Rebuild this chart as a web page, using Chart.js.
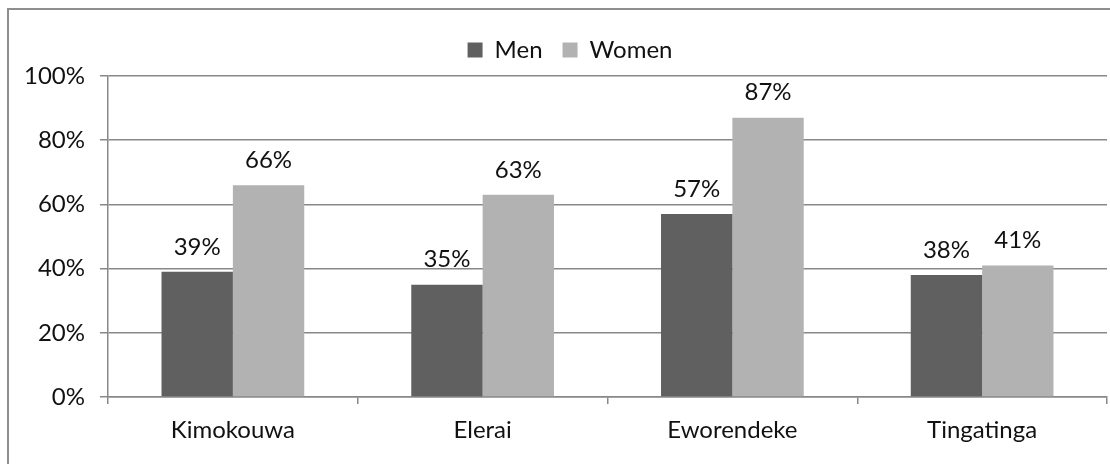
<!DOCTYPE html>
<html>
<head>
<meta charset="utf-8">
<script src="https://cdn.jsdelivr.net/npm/chart.js@4"></script>
<style>
  html, body { margin: 0; padding: 0; background: #fff; overflow: hidden; }
  #frame { position: absolute; left: 7px; top: 8px; width: 1200px; height: 600px;
           border: 2px solid #8e8e8e; box-sizing: border-box; }
  #wrap { position: absolute; left: 0; top: 0; width: 1110px; height: 464px; }
</style>
</head>
<body>
<div id="frame"></div>
<div id="wrap"><canvas id="c" width="1110" height="464"></canvas></div>
<script>
// Share of respondents by village, split by sex
const villages = ['Kimokouwa', 'Elerai', 'Eworendeke', 'Tingatinga'];
const men = [39, 35, 57, 38];
const women = [66, 63, 87, 41];
const yTicks = [0, 20, 40, 60, 80, 100];

const FONT = 'Lato, "Open Sans", sans-serif';
const SIZE = 24;

// Percentage labels above each bar
const barValueLabels = {
  id: 'barValueLabels',
  afterDatasetsDraw(chart) {
    const ctx = chart.ctx;
    ctx.save();
    ctx.font = SIZE + 'px ' + FONT;
    ctx.fillStyle = '#111';
    ctx.textAlign = 'center';
    ctx.textBaseline = 'middle';
    chart.data.datasets.forEach((ds, i) => {
      chart.getDatasetMeta(i).data.forEach((bar, j) => {
        ctx.fillText(ds.data[j] + '%', bar.x, bar.y - 25);
      });
    });
    ctx.restore();
  }
};

// Compact legend band, centred a little right of the canvas middle
const legendBand = {
  id: 'legendBand',
  beforeLayout(chart) {
    const lg = chart.legend;
    if (lg && !lg._bandFit) {
      const fit = lg.fit.bind(lg);
      lg.fit = function () { fit(); this.height = 58; };
      lg._bandFit = true;
    }
  },
  afterLayout(chart) {
    const lg = chart.legend;
    if (lg) { lg.left = 33; lg.right = 1107; }
  }
};

new Chart(document.getElementById('c'), {
  type: 'bar',
  data: {
    labels: villages,
    datasets: [
      { label: 'Men', data: men, backgroundColor: '#606060' },
      { label: 'Women', data: women, backgroundColor: '#b2b2b2' }
    ]
  },
  options: {
    responsive: false,
    animation: false,
    devicePixelRatio: 1,
    layout: { padding: { left: 0, right: 3, top: 18, bottom: 0 } },
    datasets: { bar: { categoryPercentage: 2 / 3.5, barPercentage: 1.0, borderWidth: 0 } },
    plugins: {
      legend: {
        position: 'top',
        labels: {
          boxWidth: 15, boxHeight: 15, padding: 20,
          color: '#111', font: { family: FONT, size: SIZE }
        }
      },
      tooltip: { enabled: false }
    },
    scales: {
      x: {
        grid: { display: true, drawOnChartArea: false, offset: true, tickLength: 7, color: '#888', lineWidth: 1.5 },
        border: { color: '#888', width: 1.5 },
        ticks: { color: '#111', font: { family: FONT, size: SIZE }, padding: 12 },
        afterFit(scale) { scale.height = 67; }
      },
      y: {
        min: 0, max: 100,
        afterBuildTicks(scale) { scale.ticks = yTicks.map(v => ({ value: v })); },
        grid: { color: '#888', lineWidth: 1.5, tickLength: 8 },
        border: { color: '#888', width: 1.5 },
        ticks: { color: '#111', font: { family: FONT, size: SIZE }, padding: 15,
                 callback: v => v + '%' },
        afterFit(scale) { scale.width = 108; }
      }
    }
  },
  plugins: [barValueLabels, legendBand]
});
</script>
</body>
</html>
